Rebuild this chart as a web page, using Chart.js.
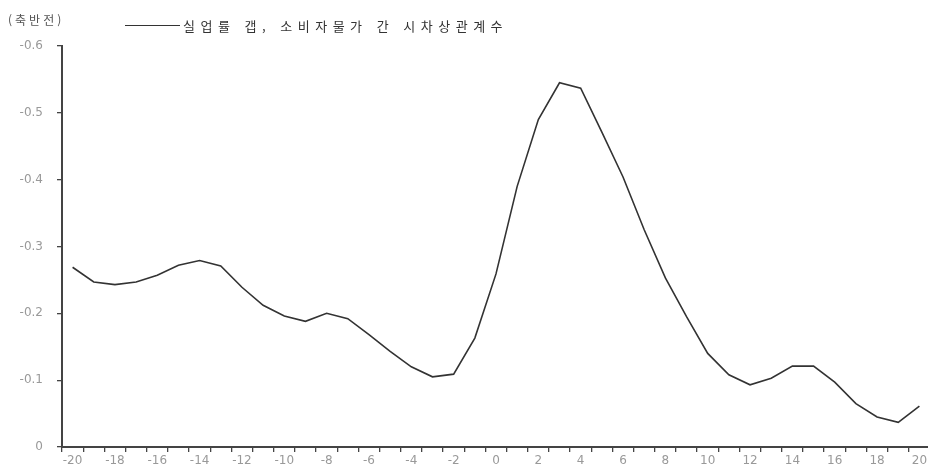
<!DOCTYPE html>
<html lang="ko">
<head>
  <meta charset="UTF-8">
  <title>실업률 갭, 소비자물가 간 시차상관계수</title>
  <script src="https://cdn.jsdelivr.net/npm/chart.js"></script>
  <style>
    html, body { margin: 0; padding: 0; background: #fff; overflow: hidden; }
    #wrap { position: relative; width: 930px; height: 474px; }
    #note { position: absolute; left: 8px; top: 11px; font: 12px "Noto Sans CJK KR", sans-serif; letter-spacing: 3px; color: #555; }
    #legend { position: absolute; left: 125px; top: 16px; font: 13px "Noto Sans CJK KR", sans-serif; letter-spacing: 5.5px; color: #333; display: flex; align-items: center; white-space: nowrap; }
    #legend span.swatch { display: inline-block; width: 55px; height: 0; border-top: 1.5px solid #333; margin-right: 3px; }
  </style>
</head>
<body>
  <div id="wrap">
    <canvas id="lagChart" width="930" height="474"></canvas>
    <div id="note">(축반전)</div>
    <div id="legend"><span class="swatch"></span>실업률 갭, 소비자물가 간 시차상관계수</div>
  </div>

<script>
// lag (quarters) and correlation values
const lags = [-20,-19,-18,-17,-16,-15,-14,-13,-12,-11,-10,-9,-8,-7,-6,-5,-4,-3,-2,-1,
  0,1,2,3,4,5,6,7,8,9,10,11,12,13,14,15,16,17,18,19,20];
const corr = [-0.269,-0.247,-0.243,-0.247,-0.257,-0.272,-0.279,-0.271,-0.239,-0.212,
  -0.196,-0.188,-0.200,-0.192,-0.168,-0.143,-0.120,-0.105,-0.109,-0.163,
  -0.259,-0.390,-0.490,-0.545,-0.537,-0.471,-0.404,-0.325,-0.253,-0.195,
  -0.140,-0.108,-0.093,-0.103,-0.121,-0.121,-0.097,-0.065,-0.045,-0.037,-0.061];
const yTicks = [0, -0.1, -0.2, -0.3, -0.4, -0.5, -0.6];

const tickFont = { family: 'DejaVu Sans', size: 12 };

new Chart(document.getElementById('lagChart').getContext('2d'), {
  type: 'line',
  data: {
    labels: lags,
    datasets: [{
      label: '실업률 갭, 소비자물가 간 시차상관계수',
      data: corr,
      borderColor: '#333',
      borderWidth: 1.6,
      pointRadius: 0,
      tension: 0,
      fill: false
    }]
  },
  options: {
    responsive: false,
    animation: false,
    layout: { padding: { top: 46, right: 0, left: 0, bottom: 0 } },
    plugins: { legend: { display: false }, tooltip: { enabled: false } },
    scales: {
      x: {
        type: 'category',
        offset: true,
        border: { color: '#444', width: 2 },
        grid: { offset: true, drawOnChartArea: false, drawTicks: true, tickLength: 5, color: '#444', lineWidth: 1.3 },
        ticks: {
          autoSkip: false, maxRotation: 0, padding: 2, color: '#999', font: tickFont,
          callback: function (v, i) { return i % 2 === 0 ? String(lags[i]) : ''; }
        },
        afterFit: s => { s.height = 27; }
      },
      y: {
        reverse: true,
        min: -0.6,
        max: 0,
        border: { color: '#444', width: 2 },
        grid: { drawOnChartArea: false, drawTicks: true, tickLength: 5, color: '#444', lineWidth: 1.3 },
        afterBuildTicks: s => { s.ticks = yTicks.map(v => ({ value: v })); },
        ticks: {
          padding: 14, color: '#999', font: tickFont,
          callback: v => (Math.abs(v) < 1e-9 ? '0' : v.toFixed(1))
        },
        afterFit: s => { s.width = 62; }
      }
    }
  }
});
</script>
</body>
</html>
